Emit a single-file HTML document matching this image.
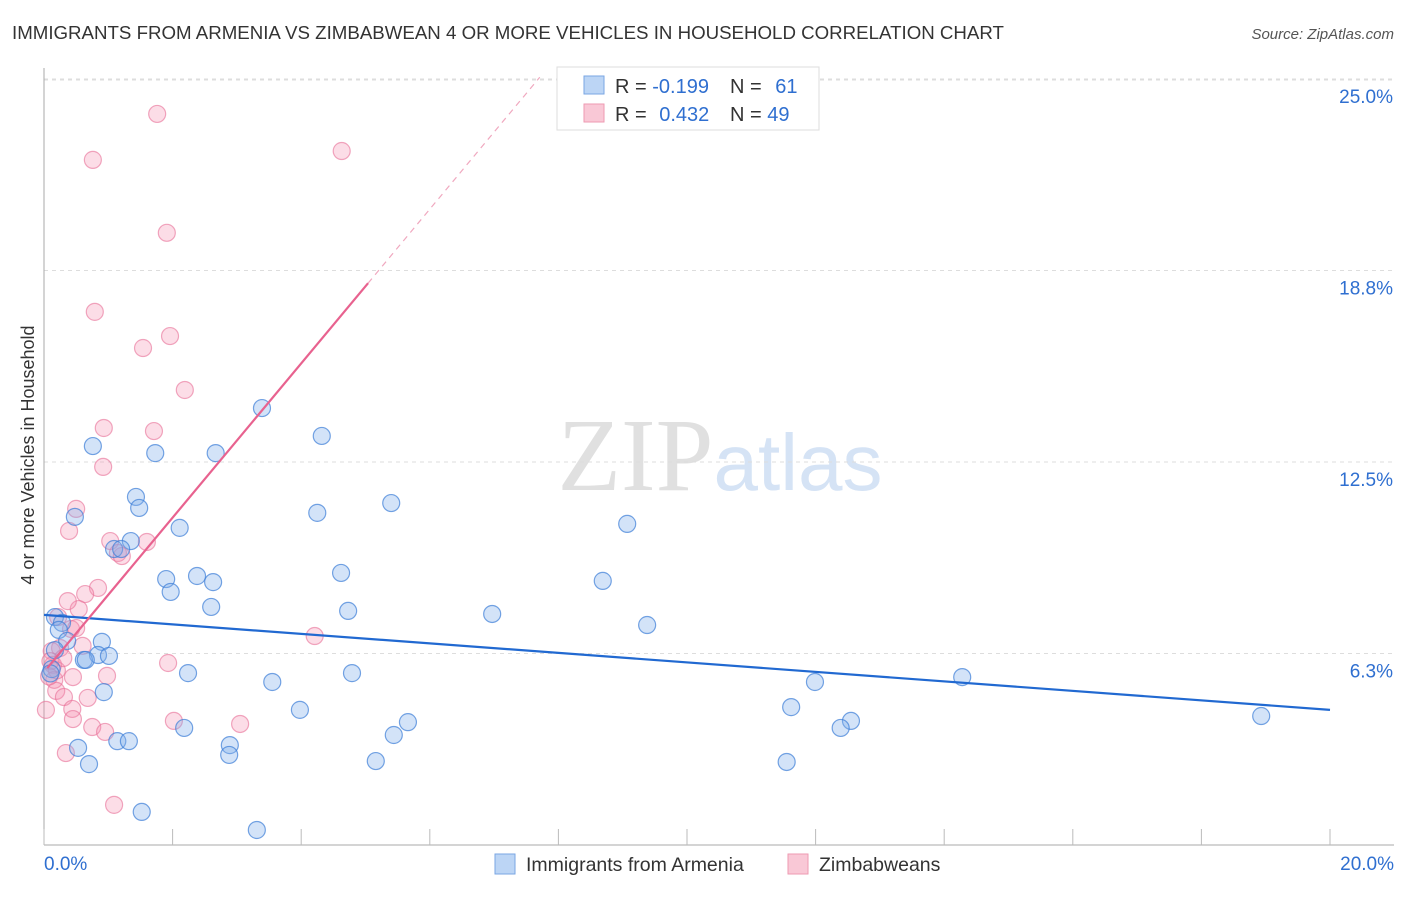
<!DOCTYPE html>
<html><head><meta charset="utf-8">
<style>
body{margin:0;background:#fff;font-family:"Liberation Sans",sans-serif;}
svg text{font-family:"Liberation Sans",sans-serif;}
</style></head>
<body>
<svg id="chart" width="1406" height="892" xmlns="http://www.w3.org/2000/svg">
<text x="12" y="39" font-size="18.7" fill="#333">IMMIGRANTS FROM ARMENIA VS ZIMBABWEAN 4 OR MORE VEHICLES IN HOUSEHOLD CORRELATION CHART</text>
<text x="1394" y="39" font-size="15" fill="#555" text-anchor="end" font-style="italic">Source: ZipAtlas.com</text>
<text x="720" y="490" font-size="104" text-anchor="middle" font-family="Liberation Serif" fill="#ddd"><tspan fill="#e0e0e0" font-family="Liberation Serif">ZIP</tspan><tspan fill="#d5e3f5" font-family="Liberation Sans" font-size="80">atlas</tspan></text>
<g id="grid"></g>
<g id="axes"></g>
<g id="marks"></g>
<g id="lines"></g>
<text transform="translate(34,455) rotate(-90)" font-size="18" fill="#333" text-anchor="middle">4 or more Vehicles in Household</text>
<g>
<rect x="557" y="67" width="262" height="63" fill="#fff" stroke="#ddd"/>
<rect x="584" y="76" width="20" height="18" fill="#bcd5f5" stroke="#7aa6e3"/>
<rect x="584" y="104" width="20" height="18" fill="#f9c8d6" stroke="#ee9ab2"/>
<text x="615" y="93" font-size="20" fill="#333">R = <tspan fill="#2f6fd0">-0.199</tspan></text>
<text x="730" y="93" font-size="20" fill="#333">N = <tspan fill="#2f6fd0" dx="8">61</tspan></text>
<text x="615" y="121" font-size="20" fill="#333">R = <tspan fill="#2f6fd0" dx="7">0.432</tspan></text>
<text x="730" y="121" font-size="20" fill="#333">N = <tspan fill="#2f6fd0">49</tspan></text>
</g>
<g>
<rect x="495" y="854" width="20" height="20" fill="#bcd5f5" stroke="#7aa6e3"/>
<text x="526" y="871" font-size="19.5" fill="#333">Immigrants from Armenia</text>
<rect x="788" y="854" width="20" height="20" fill="#f9c8d6" stroke="#ee9ab2"/>
<text x="819" y="871" font-size="19.5" fill="#333">Zimbabweans</text>
</g>
</svg>
<script>
const yTicks=[25,18.75,12.5,6.25];
const yTickLabels=["25.0%","18.8%","12.5%","6.3%"];
const xTicks=[0,2,4,6,8,10,12,14,16,18,20];
const blueX=[3.39,4.32,0.76,1.73,2.67,1.43,5.40,1.48,0.48,4.25,2.11,9.07,1.35,1.09,1.20,4.62,1.90,2.38,2.63,8.69,1.97,2.60,4.73,6.97,9.38,0.17,0.28,0.23,0.36,0.90,0.84,1.01,0.62,0.65,0.17,0.12,2.24,4.79,14.28,3.55,11.99,0.93,3.98,11.62,18.93,5.66,12.55,2.18,12.39,5.44,1.14,1.32,2.89,0.53,2.88,5.16,0.70,11.55,1.52,3.31,0.10];
const blueY=[14.26,13.35,13.02,12.79,12.79,11.36,11.16,11.00,10.71,10.84,10.35,10.48,9.92,9.66,9.66,8.88,8.68,8.78,8.58,8.62,8.26,7.77,7.64,7.54,7.18,7.44,7.25,7.02,6.66,6.63,6.20,6.17,6.04,6.04,6.36,5.74,5.61,5.61,5.48,5.32,5.32,4.99,4.41,4.50,4.21,4.01,4.05,3.82,3.82,3.59,3.39,3.39,3.26,3.17,2.94,2.74,2.64,2.71,1.08,0.49,5.6];
const pinkX=[1.76,0.76,4.63,1.91,0.79,1.54,1.96,2.19,0.93,1.71,0.92,0.50,0.39,1.03,1.60,1.15,1.21,0.84,0.64,0.54,0.37,0.22,0.42,0.50,4.21,0.25,0.12,1.93,0.14,0.16,0.45,0.98,0.19,0.31,0.68,0.03,0.44,0.45,2.02,3.05,0.75,0.95,0.34,1.09,0.10,0.20,0.60,0.30,0.08];
const pinkY=[23.86,22.36,22.65,19.98,17.40,16.22,16.61,14.85,13.61,13.51,12.34,10.97,10.25,9.92,9.89,9.53,9.43,8.39,8.19,7.70,7.96,7.44,7.05,7.08,6.82,6.43,6.33,5.94,5.88,5.39,5.48,5.52,5.03,4.83,4.80,4.41,4.44,4.11,4.05,3.95,3.85,3.69,3.00,1.31,6.0,5.7,6.5,6.1,5.5];
const blueLine={intercept:7.51,slope:-0.155};
const pinkLine={intercept:5.65,slope:2.517,solidEnd:5.04,dashEnd:7.71};
const X0=44,X1=1330,Y0=845,PPY=30.64;
function sx(v){return X0+(v/20)*(X1-X0);}
function sy(v){return Y0-v*PPY;}
const NS="http://www.w3.org/2000/svg";
function mk(tag,attrs,parent){const e=document.createElementNS(NS,tag);for(const k in attrs)e.setAttribute(k,attrs[k]);parent.appendChild(e);return e;}
const gridG=document.getElementById('grid'),axesG=document.getElementById('axes'),marksG=document.getElementById('marks'),linesG=document.getElementById('lines');
const topGrid=mk('line',{x1:X0,x2:1394,y1:80,y2:80,stroke:'#ddd','stroke-dasharray':'4,4'},gridG);


yTicks.forEach((t,i)=>{
 const g=mk('line',{x1:X0,x2:1394,y1:sy(t),y2:sy(t),stroke:'#ddd','stroke-dasharray':'4,4'},gridG);
 
 
 const l=mk('text',{x:1393,y:sy(t)+24,'font-size':19,fill:'#2f6fd0','text-anchor':'end'},axesG);
 l.textContent=yTickLabels[i];
 
 
});
const ya=mk('line',{x1:X0,x2:X0,y1:68,y2:Y0,stroke:'#aaa'},axesG);


const xa=mk('line',{x1:X0,x2:1394,y1:Y0,y2:Y0,stroke:'#aaa'},axesG);


xTicks.forEach(t=>{
 const k=mk('line',{x1:sx(t),x2:sx(t),y1:Y0-16,y2:Y0,stroke:'#bbb'},axesG);
 
 
});
const xl0=mk('text',{x:44,y:870,'font-size':19,fill:'#2f6fd0'},axesG);xl0.textContent='0.0%';


const xl1=mk('text',{x:1394,y:870,'font-size':19,fill:'#2f6fd0','text-anchor':'end'},axesG);xl1.textContent='20.0%';


pinkX.forEach((v,i)=>{
 const c=mk('circle',{cx:sx(v),cy:sy(pinkY[i]),r:8.5,fill:'rgba(244,143,177,0.3)',stroke:'rgba(232,110,150,0.6)','stroke-width':1.2},marksG);
 
 
});
blueX.forEach((v,i)=>{
 const c=mk('circle',{cx:sx(v),cy:sy(blueY[i]),r:8.5,fill:'rgba(130,175,235,0.35)',stroke:'rgba(60,125,215,0.7)','stroke-width':1.2},marksG);
 
 
});
const bl=mk('line',{x1:sx(0),y1:sy(blueLine.intercept),x2:sx(20),y2:sy(blueLine.intercept+blueLine.slope*20),stroke:'#2169d1','stroke-width':2.2},linesG);


const pl=mk('line',{x1:sx(0.05),y1:sy(pinkLine.intercept+pinkLine.slope*0.05),x2:sx(pinkLine.solidEnd),y2:sy(pinkLine.intercept+pinkLine.slope*pinkLine.solidEnd),stroke:'#e8628f','stroke-width':2.2},linesG);


const pd=mk('line',{x1:sx(pinkLine.solidEnd),y1:sy(pinkLine.intercept+pinkLine.slope*pinkLine.solidEnd),x2:sx(pinkLine.dashEnd),y2:sy(pinkLine.intercept+pinkLine.slope*pinkLine.dashEnd),stroke:'#f0a8bf','stroke-width':1.2,'stroke-dasharray':'6,5'},linesG);


</script>
</body></html>
